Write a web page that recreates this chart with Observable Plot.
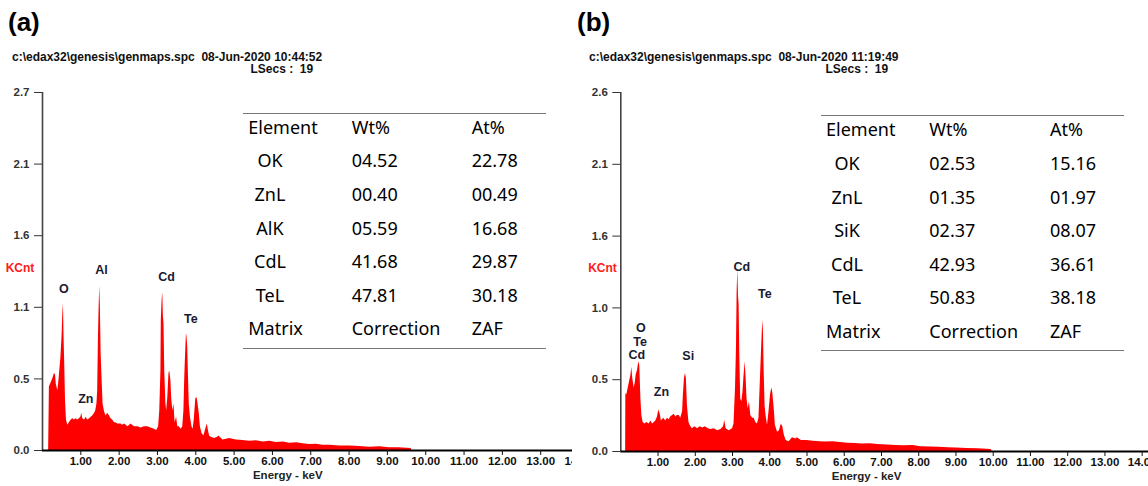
<!DOCTYPE html>
<html><head><meta charset="utf-8">
<script src="https://cdn.jsdelivr.net/npm/d3@7"></script>
<script src="https://cdn.jsdelivr.net/npm/@observablehq/plot@0.6"></script>
<style>
html,body{margin:0;padding:0;background:#fff;}
#wrap{position:relative;width:1148px;height:486px;overflow:hidden;font-family:"Liberation Sans",Arial,sans-serif;}
.abs{position:absolute;white-space:pre;line-height:1;}
.panel{position:absolute;top:0;}
.panel svg{overflow:hidden;display:block;}
.tag{font-weight:bold;font-size:26px;color:#000;transform:translateY(-50%);}
.hdr{font-weight:bold;font-size:12px;color:#111;transform:translateY(-50%);}
.kcnt{font-weight:bold;font-size:12px;color:#ff1a1a;transform:translate(-50%,-50%);}
.tline{position:absolute;height:0;border-top:1.5px solid #777;}
.cell{position:absolute;white-space:pre;font-family:"Noto Sans",sans-serif;font-size:18px;color:#000;line-height:1;transform:translateY(-50%);}
.cell.c{transform:translate(-50%,-50%);}
</style></head><body><div id="wrap"></div>
<script>
// ---------------- DATA ----------------
const panelTags = ["(a)", "(b)"];
const fileLines = ["c:\\edax32\\genesis\\genmaps.spc  08-Jun-2020 10:44:52", "c:\\edax32\\genesis\\genmaps.spc  08-Jun-2020 11:19:49"];
const lsecsLine = "LSecs :  19";
const yAxisName = "KCnt";
const xAxisName = "Energy - keV";

const xTicks = [1,2,3,4,5,6,7,8,9,10,11,12,13,14];
const yTicksA = [0, 0.54, 1.08, 1.62, 2.16, 2.7];
const yLabelsA = ["0.0","0.5","1.1","1.6","2.1","2.7"];
const yTicksB = [0, 0.52, 1.04, 1.56, 2.08, 2.6];
const yLabelsB = ["0.0","0.5","1.0","1.6","2.1","2.6"];

// spectrum (a): [energy keV, KCnt]
const spectrumA = [[0.16,0],[0.18,0.48],[0.21,0.50],[0.24,0.52],[0.28,0.55],[0.31,0.58],[0.34,0.57],[0.36,0.50],[0.40,0.45],[0.43,0.53],[0.45,0.60],[0.48,0.70],[0.51,0.86],[0.53,1.03],[0.547,1.11],[0.56,0.88],[0.58,0.65],[0.60,0.38],[0.625,0.23],[0.66,0.19],[0.70,0.21],[0.75,0.23],[0.79,0.24],[0.83,0.23],[0.88,0.24],[0.92,0.23],[0.96,0.24],[1.00,0.25],[1.025,0.28],[1.05,0.24],[1.10,0.23],[1.14,0.25],[1.18,0.23],[1.23,0.24],[1.27,0.25],[1.31,0.26],[1.36,0.28],[1.39,0.30],[1.42,0.35],[1.44,0.45],[1.46,0.86],[1.48,1.11],[1.495,1.24],[1.51,1.08],[1.53,0.73],[1.56,0.50],[1.58,0.35],[1.62,0.29],[1.66,0.26],[1.70,0.28],[1.75,0.26],[1.79,0.24],[1.83,0.23],[1.88,0.21],[1.92,0.21],[1.96,0.20],[2.05,0.20],[2.09,0.19],[2.14,0.20],[2.23,0.18],[2.31,0.20],[2.40,0.18],[2.49,0.18],[2.57,0.17],[2.66,0.18],[2.75,0.18],[2.83,0.17],[2.92,0.16],[2.98,0.15],[3.03,0.18],[3.06,0.30],[3.09,0.60],[3.10,0.98],[3.12,1.13],[3.138,1.19],[3.155,1.01],[3.17,0.96],[3.19,0.60],[3.22,0.35],[3.24,0.30],[3.27,0.40],[3.30,0.58],[3.32,0.60],[3.35,0.53],[3.37,0.40],[3.40,0.30],[3.43,0.35],[3.46,0.21],[3.50,0.25],[3.53,0.18],[3.57,0.18],[3.62,0.16],[3.66,0.18],[3.69,0.30],[3.71,0.53],[3.73,0.70],[3.756,0.88],[3.77,0.86],[3.79,0.78],[3.81,0.55],[3.83,0.35],[3.86,0.25],[3.90,0.18],[3.93,0.16],[3.96,0.23],[4.00,0.39],[4.03,0.40],[4.05,0.37],[4.09,0.28],[4.12,0.18],[4.16,0.13],[4.21,0.11],[4.25,0.15],[4.30,0.20],[4.33,0.15],[4.36,0.11],[4.40,0.10],[4.49,0.09],[4.57,0.10],[4.60,0.11],[4.71,0.08],[4.88,0.09],[5.06,0.08],[5.23,0.075],[5.41,0.07],[5.58,0.073],[5.76,0.065],[5.93,0.07],[6.10,0.06],[6.28,0.065],[6.45,0.055],[6.63,0.058],[6.80,0.05],[6.97,0.045],[7.15,0.048],[7.32,0.04],[7.50,0.04],[7.76,0.033],[8.02,0.033],[8.28,0.03],[8.54,0.025],[8.80,0.028],[9.06,0.02],[9.30,0.02],[9.62,0.015],[9.64,0]];

// spectrum (b): [energy keV, KCnt]
const spectrumB = [[0.13,0],[0.135,0.42],[0.16,0.41],[0.20,0.46],[0.23,0.50],[0.27,0.55],[0.296,0.61],[0.32,0.53],[0.36,0.46],[0.39,0.50],[0.41,0.55],[0.45,0.59],[0.484,0.65],[0.51,0.62],[0.54,0.38],[0.565,0.26],[0.60,0.21],[0.645,0.20],[0.70,0.21],[0.76,0.20],[0.81,0.22],[0.85,0.20],[0.90,0.21],[0.94,0.22],[0.985,0.25],[1.02,0.30],[1.06,0.27],[1.09,0.22],[1.15,0.24],[1.21,0.22],[1.25,0.24],[1.30,0.23],[1.34,0.25],[1.39,0.26],[1.43,0.27],[1.48,0.25],[1.52,0.26],[1.57,0.26],[1.61,0.24],[1.66,0.29],[1.68,0.41],[1.71,0.53],[1.737,0.565],[1.76,0.53],[1.79,0.33],[1.83,0.21],[1.86,0.19],[1.92,0.165],[1.99,0.18],[2.06,0.165],[2.13,0.18],[2.20,0.17],[2.27,0.18],[2.35,0.165],[2.42,0.16],[2.51,0.165],[2.60,0.15],[2.69,0.16],[2.76,0.18],[2.79,0.225],[2.83,0.165],[2.91,0.15],[3.00,0.165],[3.04,0.20],[3.08,0.46],[3.106,0.75],[3.124,1.16],[3.142,1.32],[3.16,1.13],[3.178,1.06],[3.195,0.70],[3.22,0.38],[3.25,0.36],[3.28,0.43],[3.31,0.55],[3.34,0.65],[3.365,0.53],[3.39,0.38],[3.42,0.31],[3.455,0.36],[3.49,0.26],[3.54,0.24],[3.58,0.24],[3.625,0.21],[3.67,0.20],[3.71,0.24],[3.74,0.46],[3.77,0.67],[3.795,0.84],[3.813,0.95],[3.83,0.87],[3.85,0.58],[3.875,0.33],[3.90,0.26],[3.94,0.19],[3.98,0.29],[4.02,0.41],[4.055,0.46],[4.08,0.43],[4.12,0.31],[4.15,0.19],[4.21,0.14],[4.26,0.15],[4.31,0.20],[4.35,0.18],[4.39,0.12],[4.44,0.08],[4.52,0.07],[4.61,0.10],[4.70,0.09],[4.74,0.10],[4.85,0.08],[5.0,0.08],[5.17,0.075],[5.35,0.07],[5.5,0.068],[5.7,0.07],[5.9,0.065],[6.1,0.06],[6.3,0.058],[6.5,0.055],[6.7,0.056],[6.9,0.05],[7.15,0.047],[7.4,0.044],[7.6,0.042],[7.85,0.044],[8.05,0.035],[8.3,0.032],[8.55,0.03],[8.8,0.028],[9.0,0.025],[9.3,0.022],[9.6,0.02],[9.95,0.015],[9.97,0]];

// peak labels: element, energy (keV), height (KCnt)
const peakNamesA = ["O","Al","Cd","Te","Zn"];
const peakKeVA   = [0.556, 1.54, 3.235, 3.87, 1.13];
const peakKCntA  = [1.22, 1.36, 1.307, 0.993, 0.39];
const peakNamesB = ["O","Te","Cd","Si","Zn","Cd","Te"];
const peakKeVB   = [0.537, 0.52, 0.43, 1.81, 1.09, 3.25, 3.87];
const peakKCntB  = [0.897, 0.79, 0.698, 0.693, 0.431, 1.336, 1.142];

// composition tables
const tableHeader = ["Element","Wt%","At%"];
const matrixRow = ["Matrix","Correction","ZAF"];
const elementsA = ["OK","ZnL","AlK","CdL","TeL"];
const wtA = ["04.52","00.40","05.59","41.68","47.81"];
const atA = ["22.78","00.49","16.68","29.87","30.18"];
const elementsB = ["OK","ZnL","SiK","CdL","TeL"];
const wtB = ["02.53","01.35","02.37","42.93","50.83"];
const atB = ["15.16","01.97","08.07","36.61","38.18"];

// ---------------- DRAW ----------------
const wrap = document.getElementById("wrap");
function addDiv(cls, text, left, top) {
  const d = document.createElement("div");
  d.className = cls; d.textContent = text;
  d.style.left = left + "px"; d.style.top = top + "px";
  wrap.appendChild(d); return d;
}

function panel(cfg) {
  const peaks = cfg.names.map((n, i) => ({el: n, keV: cfg.keV[i], kcnt: cfg.kcnt[i]}));
  const p = Plot.plot({
    width: cfg.width, height: 486,
    marginLeft: cfg.marginLeft, marginRight: 0, marginTop: 92, marginBottom: cfg.marginBottom,
    x: {domain: [0, cfg.xMax], axis: null},
    y: {domain: [0, cfg.yTicks[cfg.yTicks.length - 1]], axis: null},
    style: {background: "transparent", fontFamily: "'Liberation Sans', Arial, sans-serif", fontSize: "11px", fontWeight: "bold"},
    marks: [
      Plot.areaY(cfg.spectrum, {x: d => d[0], y: d => d[1], fill: "#ff0000", curve: "linear"}),
      Plot.ruleX([0], {y1: 0, y2: cfg.yTicks[cfg.yTicks.length - 1], stroke: "#444", strokeWidth: 1.6}),
      Plot.ruleY([0], {stroke: "#000", strokeWidth: 2.2}),
      Plot.axisY({ticks: cfg.yTicks, tickFormat: d => cfg.yLabels[cfg.yTicks.indexOf(d)], tickSize: 8, tickPadding: 5,
                  fontSize: 11.5, fontWeight: "bold", color: "#333", label: null}),
      Plot.axisX({ticks: xTicks, tickFormat: d => d.toFixed(2), tickSize: 5, tickPadding: 1,
                  fontSize: 11.5, fontWeight: "bold", color: "#111", label: null}),
      Plot.text(peaks, {x: "keV", y: "kcnt", text: "el", fontSize: 12.5, fontWeight: "bold", fill: "#1a1a33"}),
      Plot.text([{t: xAxisName, x: cfg.xLabelAt}], {x: "x", text: "t", frameAnchor: "bottom", dy: 28.5, fontSize: 11.5, fontWeight: "bold", fill: "#222"})
    ]
  });
  const holder = document.createElement("div");
  holder.className = "panel"; holder.style.left = cfg.left + "px";
  holder.appendChild(p); wrap.appendChild(holder);
}

panel({left: 0, width: 572, marginLeft: 42, marginBottom: 36, xMax: 13.83, spectrum: spectrumA,
       yTicks: yTicksA, yLabels: yLabelsA, names: peakNamesA, keV: peakKeVA, kcnt: peakKCntA, xLabelAt: 6.4});
panel({left: 574, width: 574, marginLeft: 46.3, marginBottom: 35, xMax: 14.17, spectrum: spectrumB,
       yTicks: yTicksB, yLabels: yLabelsB, names: peakNamesB, keV: peakKeVB, kcnt: peakKCntB, xLabelAt: 6.6});

// headers
addDiv("abs tag", panelTags[0], 8, 22);
addDiv("abs tag", panelTags[1], 577, 22);
addDiv("abs hdr", fileLines[0], 12, 57);
addDiv("abs hdr", lsecsLine, 250.5, 69);
addDiv("abs hdr", fileLines[1], 589, 57);
addDiv("abs hdr", lsecsLine, 825.5, 69);
addDiv("abs kcnt", yAxisName, 20, 268);
addDiv("abs kcnt", yAxisName, 602.5, 268);

// tables
function table(t, elements, wt, at) {
  const line1 = document.createElement("div"); line1.className = "tline";
  line1.style.left = t.x0 + "px"; line1.style.width = (t.x1 - t.x0) + "px"; line1.style.top = t.top + "px";
  wrap.appendChild(line1);
  const line2 = line1.cloneNode(); line2.style.top = t.bottom + "px"; wrap.appendChild(line2);
  addDiv("cell", tableHeader[0], t.c0, t.y0);
  addDiv("cell", tableHeader[1], t.c1, t.y0);
  addDiv("cell", tableHeader[2], t.c2, t.y0);
  elements.forEach((e, i) => {
    const y = t.y0 + (i + 1) * t.dy;
    addDiv("cell c", e, t.cName, y);
    addDiv("cell", wt[i], t.c1, y);
    addDiv("cell", at[i], t.c2, y);
  });
  const ym = t.y0 + (elements.length + 1) * t.dy;
  addDiv("cell", matrixRow[0], t.c0, ym);
  addDiv("cell", matrixRow[1], t.c1, ym);
  addDiv("cell", matrixRow[2], t.c2, ym);
}
table({x0: 243.3, x1: 546, top: 113, bottom: 348, y0: 126.7, dy: 33.6, c0: 248.3, cName: 270, c1: 351.7, c2: 471.7}, elementsA, wtA, atA);
table({x0: 820.7, x1: 1124, top: 115, bottom: 350, y0: 129.3, dy: 33.6, c0: 826, cName: 847, c1: 929.3, c2: 1050}, elementsB, wtB, atB);
</script></body></html>
